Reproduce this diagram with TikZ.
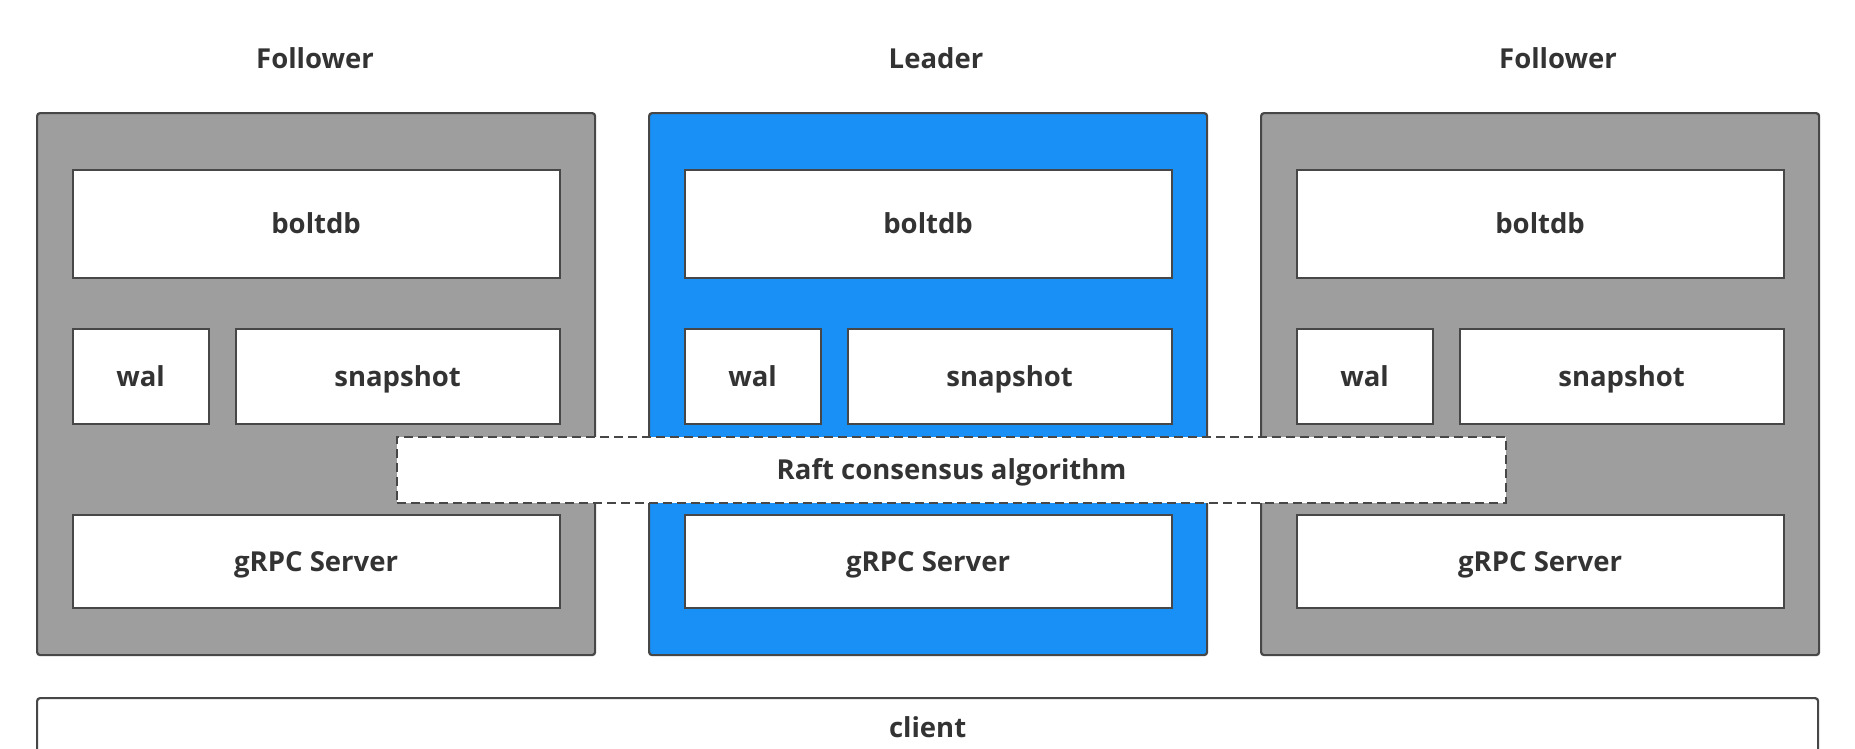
\documentclass[tikz,border=0pt]{standalone}
\usepackage{fontspec}
\setmainfont{Open Sans}
\definecolor{edge}{HTML}{474747}
\definecolor{txt}{HTML}{333333}
\definecolor{nodegray}{HTML}{9E9E9E}
\definecolor{leaderblue}{HTML}{1890F5}
\begin{document}
\begin{tikzpicture}[x=1pt,y=-1pt,
  every node/.style={font=\fontsize{27.5}{32}\selectfont\bfseries, text=txt, inner sep=0pt,
    text height=19.6pt, text depth=0pt},
  server/.style={draw=edge, line width=2.2pt, rounded corners=3pt, anchor=north west,
    minimum width=558pt, minimum height=542pt},
  part/.style={draw=edge, fill=white, line width=2.2pt, anchor=north west},
  title/.style={anchor=center},
  raft/.style={draw=edge, dash pattern=on 9pt off 5pt, fill=white, line width=2.2pt,
    anchor=north west, minimum width=1109pt, minimum height=66pt},
  clientbox/.style={draw=edge, fill=white, line width=2.2pt, rounded corners=3pt,
    anchor=north west, minimum width=1781pt, minimum height=60pt}]
\useasboundingbox (0,0) rectangle (1855,748);
\clip (0,0) rectangle (1855,748);

% server titles
\node[title] (t1) at (315,58.5) {Follower};
\node[title] (t2) at (936,58.5) {Leader};
\node[title] (t3) at (1558,58.5) {Follower};

% the three etcd members
\foreach \L/\col/\n in {36/nodegray/a, 648/leaderblue/b, 1260/nodegray/c}{
  \node[server, fill=\col] (srv-\n) at (\L,112) {};
  \node[part, minimum width=487pt, minimum height=108pt] (bolt-\n) at (\L+35.5,169) {boltdb};
  \node[part, minimum width=136pt, minimum height=95pt] (wal-\n) at (\L+35.5,328) {wal};
  \node[part, minimum width=324pt, minimum height=95pt] (snap-\n) at (\L+198.5,328) {snapshot};
  \node[part, minimum width=487pt, minimum height=93pt] (grpc-\n) at (\L+35.5,514) {gRPC Server};
}

% consensus layer spanning the members
\node[raft] (raft) at (396,436) {Raft consensus algorithm};

% client bar
\node[clientbox] (client) at (36,697) {client};
\end{tikzpicture}
\end{document}
